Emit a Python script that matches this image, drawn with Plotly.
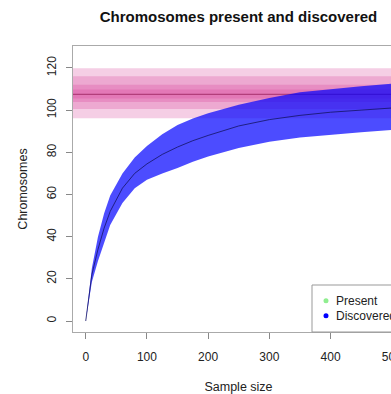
import plotly.graph_objects as go

# ---- data ----
sample_size = [0, 5, 10, 20, 30, 40, 60, 80, 100, 125, 150, 175, 200, 250, 300, 350, 400, 450, 500]
discovered_mean = [0, 12, 22, 34, 44, 52, 63, 70, 74.5, 79, 82.5, 85.5, 88, 92.5, 95.5, 97.5, 99, 100, 101]
discovered_upper = [0, 14, 25, 40, 51, 59.5, 70, 77.5, 83, 88.5, 93, 96, 98.5, 102.5, 105.7, 108.5, 110, 111.3, 112.5]
discovered_lower = [0, 10, 18.5, 28.5, 37, 45.5, 56, 63, 67, 70, 72.5, 75.5, 78, 82, 85, 87, 88.3, 89.5, 90.6]

present_mean = 107.5
present_lower = [96.2, 100.5, 103.8, 105.5]
present_upper = [119.8, 116.0, 112.0, 109.8]

x_ticks = [0, 100, 200, 300, 400, 500]
y_ticks = [0, 20, 40, 60, 80, 100, 120]
legend_labels = ["Present", "Discovered"]
legend_colors = ["#90EE90", "#0000FF"]

W, H = 420, 394
ML, MT = 73, 46
MR = W - 404
MB = H - 332
PW, PH = W - ML - MR, H - MT - MB

fig = go.Figure()

shapes = []
for lo, hi in zip(present_lower, present_upper):
    shapes.append(dict(type="rect", xref="paper", yref="y", x0=0, x1=1, y0=lo, y1=hi,
                       fillcolor="rgba(215,60,150,0.25)", line=dict(width=0), layer="below"))
shapes.append(dict(type="line", xref="paper", yref="y", x0=0, x1=1, y0=present_mean, y1=present_mean,
                   line=dict(color="rgba(150,30,90,0.8)", width=1), layer="below"))

fig.add_trace(go.Scatter(x=sample_size + sample_size[::-1],
                         y=discovered_upper + discovered_lower[::-1],
                         fill="toself", fillcolor="rgba(0,0,255,0.7)",
                         line=dict(width=0), mode="lines", showlegend=False, hoverinfo="skip"))
fig.add_trace(go.Scatter(x=sample_size, y=discovered_mean, mode="lines",
                         line=dict(color="rgba(20,20,100,0.8)", width=1), showlegend=False))


def px_x(p):  # screen pixel -> paper
    return (p - ML) / PW


def px_y(p):
    return (H - MB - p) / PH


shapes.append(dict(type="rect", xref="paper", yref="paper", x0=px_x(312), x1=1.0, y0=0, y1=px_y(285),
                   line=dict(color="#999999", width=1), fillcolor="white", layer="above"))
annotations = []
for i, (lab, col) in enumerate(zip(legend_labels, legend_colors)):
    cy = 300.7 + 15 * i
    shapes.append(dict(type="circle", xref="paper", yref="paper",
                       x0=px_x(326 - 2.5), x1=px_x(326 + 2.5), y0=px_y(cy + 2.5), y1=px_y(cy - 2.5),
                       fillcolor=col, line=dict(width=0), layer="above"))
    annotations.append(dict(xref="paper", yref="paper", x=px_x(334), y=px_y(cy), text=lab,
                            showarrow=False, xanchor="left", yanchor="middle",
                            font=dict(size=12, color="#222222", family="Liberation Sans, Arial")))

fig.update_layout(
    width=W, height=H,
    margin=dict(l=ML, r=MR, t=MT, b=MB, autoexpand=False),
    paper_bgcolor="white", plot_bgcolor="white",
    font=dict(family="Liberation Sans, Arial", color="#222222", size=12),
    title=dict(text="<b>Chromosomes present and discovered</b>", x=0.5, xref="paper",
               y=1 - 17 / H, yref="container", yanchor="middle", xanchor="center",
               font=dict(size=15, color="#111111")),
    shapes=shapes, annotations=annotations,
    showlegend=False,
    xaxis=dict(range=[-20.8, 520], tickvals=x_ticks, ticks="outside", ticklen=6, tickcolor="#888888",
               showgrid=False, zeroline=False, showline=True, linecolor="#aaaaaa", mirror=True,
               ticklabelstandoff=8,
               title=dict(text="Sample size", standoff=22, font=dict(size=12.5))),
    yaxis=dict(range=[-5.2, 130.4], tickvals=y_ticks, ticks="outside", ticklen=6, tickcolor="#888888",
               tickangle=-90, showgrid=False, zeroline=False, showline=True, linecolor="#aaaaaa",
               ticklabelstandoff=5,
               title=dict(text="Chromosomes", standoff=14, font=dict(size=12.5))),
)

fig.write_html("out.html", config={"displayModeBar": False},
               post_script="document.body.style.margin='0';document.body.style.overflow='hidden';")
